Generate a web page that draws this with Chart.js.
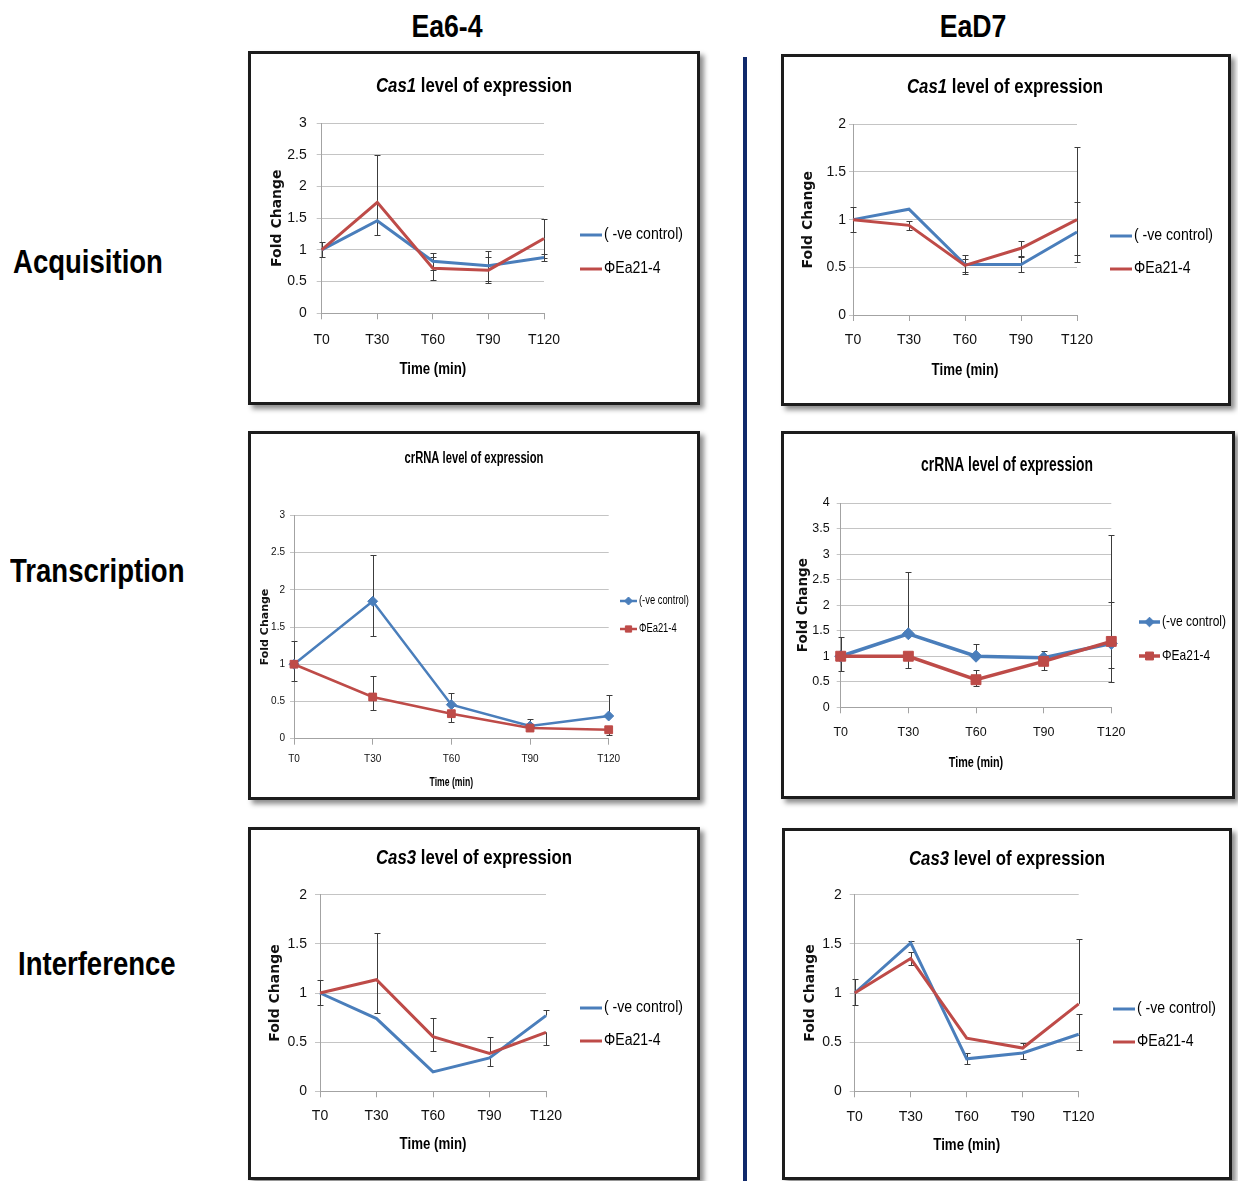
<!DOCTYPE html>
<html>
<head>
<meta charset="utf-8">
<script src="https://cdn.jsdelivr.net/npm/chart.js@4.4.1/dist/chart.umd.min.js"></script>
<style>
  body { margin: 0; background: #fff; }
  #page { position: relative; width: 1238px; height: 1181px; overflow: hidden; background: #fff; }
  .hdr { position: absolute; font-family: "Liberation Sans Narrow", "Liberation Sans", sans-serif; font-weight: bold; color: #000; white-space: nowrap; line-height: 1; }
  .col { width: 200px; text-align: center; font-size: 31px; transform: scaleX(0.86); transform-origin: center; }
  .row { font-size: 34px; transform: scaleX(0.81); transform-origin: left center; }
  .panel { position: absolute; box-sizing: border-box; border: 3px solid #1c1c1c; background: #fff; box-shadow: 4px 4px 5px rgba(0, 0, 0, 0.45); }
  .panel canvas { display: block; }
  #divider { position: absolute; left: 743px; top: 57px; width: 4px; height: 1124px; background: #10296b; }
</style>
</head>
<body>
<div id="page">
  <div class="hdr col" style="left:347px;top:11px;">Ea6-4</div>
  <div class="hdr col" style="left:873px;top:11px;">EaD7</div>
  <div class="hdr row" style="left:13px;top:244px;">Acquisition</div>
  <div class="hdr row" style="left:10px;top:553px;">Transcription</div>
  <div class="hdr row" style="left:18px;top:946px;">Interference</div>
  <div id="divider"></div>

  <div class="panel" style="left:248px;top:51px;width:452px;height:354px;"><canvas id="c1" width="446" height="348"></canvas></div>
  <div class="panel" style="left:781px;top:54px;width:450px;height:352px;"><canvas id="c2" width="444" height="346"></canvas></div>
  <div class="panel" style="left:248px;top:431px;width:452px;height:369px;"><canvas id="c3" width="446" height="363"></canvas></div>
  <div class="panel" style="left:781px;top:431px;width:454px;height:368px;"><canvas id="c4" width="448" height="362"></canvas></div>
  <div class="panel" style="left:248px;top:827px;width:452px;height:353px;"><canvas id="c5" width="446" height="347"></canvas></div>
  <div class="panel" style="left:782px;top:828px;width:450px;height:352px;"><canvas id="c6" width="444" height="346"></canvas></div>
</div>

<script>
// categories and legend names
const timeLabels = ["T0", "T30", "T60", "T90", "T120"];
const ctrlName = "( -ve control)";
const ctrlNameCr = "(-ve control)";
const phageName = "ΦEa21-4";

// Ea6-4, Cas1
const ea64Cas1Ctrl = [1.0, 1.46, 0.82, 0.75, 0.88];
const ea64Cas1Phage = [1.0, 1.75, 0.71, 0.68, 1.18];
const ea64Cas1CtrlErr = [[0.12, 0.12], [0, 0], [0.13, 0.13], [0.24, 0.24], [0.05, 0.05]]; // [minus, plus]
const ea64Cas1PhageErr = [[0, 0], [0.51, 0.75], [0.18, 0.18], [0.21, 0.21], [0.31, 0.31]];

// EaD7, Cas1
const ead7Cas1Ctrl = [1.0, 1.11, 0.53, 0.53, 0.87];
const ead7Cas1Phage = [1.0, 0.94, 0.52, 0.70, 1.0];
const ead7Cas1CtrlErr = [[0.13, 0.13], [0, 0], [0.1, 0.1], [0.08, 0.08], [0.31, 0.31]];
const ead7Cas1PhageErr = [[0, 0], [0.05, 0.05], [0.07, 0.07], [0.08, 0.08], [0.37, 0.76]];

// Ea6-4, crRNA
const ea64CrCtrl = [1.0, 1.845, 0.457, 0.17, 0.305];
const ea64CrPhage = [1.0, 0.56, 0.336, 0.143, 0.12];
const ea64CrCtrlErr = [[0.22, 0.31], [0.46, 0.62], [0, 0.15], [0, 0.1], [0, 0.285]];
const ea64CrPhageErr = [[0, 0], [0.17, 0.28], [0.11, 0], [0.03, 0], [0.075, 0]];

// EaD7, crRNA
const ead7CrCtrl = [1.0, 1.44, 1.0, 0.97, 1.25];
const ead7CrPhage = [1.0, 1.0, 0.54, 0.90, 1.29];
const ead7CrCtrlErr = [[0.28, 0.38], [0, 1.2], [0, 0.23], [0, 0.13], [0.49, 0.82]];
const ead7CrPhageErr = [[0, 0], [0.24, 0], [0.12, 0.2], [0.16, 0], [0.79, 2.09]];

// Ea6-4, Cas3
const ea64Cas3Ctrl = [1.0, 0.74, 0.197, 0.34, 0.77];
const ea64Cas3Phage = [1.0, 1.135, 0.556, 0.386, 0.60];
const ea64Cas3CtrlErr = [[0.12, 0.13], [0, 0], [0, 0], [0.08, 0], [0, 0.06]];
const ea64Cas3PhageErr = [[0, 0], [0.34, 0.48], [0.15, 0.19], [0, 0.17], [0.13, 0]];

// EaD7, Cas3
const ead7Cas3Ctrl = [1.0, 1.51, 0.33, 0.39, 0.58];
const ead7Cas3Phage = [1.0, 1.35, 0.54, 0.44, 0.89];
const ead7Cas3CtrlErr = [[0.12, 0.14], [0, 0.02], [0.05, 0.06], [0.06, 0], [0.16, 0.21]];
const ead7Cas3PhageErr = [[0, 0], [0.07, 0.07], [0, 0], [0, 0.05], [0, 0.66]];

const BLUE = "#4a7ebb";
const RED = "#be4b48";
const GRID = "#c4c4c4";
const AXIS = "#a3a3a3";
const FONT = '"Liberation Sans"';
Chart.defaults.font.family = FONT;

// error bars, drawn under the lines
const errorBars = {
  id: "errorBars",
  beforeDatasetsDraw(chart) {
    const ctx = chart.ctx, y = chart.scales.y;
    ctx.save();
    ctx.strokeStyle = "#3c3c3c";
    ctx.lineWidth = 1;
    chart.data.datasets.forEach((ds, i) => {
      const meta = chart.getDatasetMeta(i);
      meta.data.forEach((pt, j) => {
        const [minus, plus] = ds.errors[j];
        const v = ds.data[j];
        const x = Math.round(pt.x) + 0.5;
        const y0 = y.getPixelForValue(v);
        [[plus, v + plus], [minus, v - minus]].forEach(([amt, end]) => {
          if (!amt) return;
          const ye = Math.round(y.getPixelForValue(end)) + 0.5;
          ctx.beginPath();
          ctx.moveTo(x, y0);
          ctx.lineTo(x, ye);
          ctx.moveTo(x - 3, ye);
          ctx.lineTo(x + 3, ye);
          ctx.stroke();
        });
      });
    });
    ctx.restore();
  }
};

// squeezed text (the original is in a narrow Calibri)
function drawSqueezed(ctx, parts, x, y, size, squeeze) {
  ctx.save();
  ctx.fillStyle = "#000";
  ctx.textBaseline = "middle";
  ctx.textAlign = "left";
  const fonts = parts.map(p => `${p.italic ? "italic " : ""}bold ${size}px ${FONT}`);
  let total = 0;
  parts.forEach((p, i) => { ctx.font = fonts[i]; total += ctx.measureText(p.text).width; });
  ctx.translate(x, y);
  ctx.scale(squeeze, 1);
  let cx = -total / 2;
  parts.forEach((p, i) => {
    ctx.font = fonts[i];
    ctx.fillText(p.text, cx, 0);
    cx += ctx.measureText(p.text).width;
  });
  ctx.restore();
}

// chart title and x axis title
const panelTitle = {
  id: "panelTitle",
  afterDraw(chart, args, opts) {
    const area = chart.chartArea;
    drawSqueezed(chart.ctx, opts.parts, opts.x, opts.y, opts.size, opts.squeeze);
    drawSqueezed(chart.ctx, [{ text: "Time (min)" }], (area.left + area.right) / 2, opts.xtY, opts.xtSize, opts.xtSqueeze);
  }
};

// legend on the right, Excel style
const sideLegend = {
  id: "sideLegend",
  afterDraw(chart, args, opts) {
    const ctx = chart.ctx;
    chart.data.datasets.forEach((ds, i) => {
      const y = opts.y + i * opts.gap;
      ctx.save();
      ctx.strokeStyle = ds.borderColor;
      ctx.fillStyle = ds.borderColor;
      ctx.lineWidth = ds.borderWidth;
      ctx.beginPath();
      ctx.moveTo(opts.x, y);
      ctx.lineTo(opts.x + opts.len, y);
      ctx.stroke();
      if (ds.pointRadius > 0) {
        ctx.lineWidth = 1;
        Chart.helpers.drawPoint(ctx, { pointStyle: ds.pointStyle, radius: ds.pointRadius * 0.8, borderWidth: 1, rotation: 0 }, opts.x + opts.len / 2, y);
      }
      ctx.fillStyle = "#000";
      ctx.font = `${opts.size}px ${FONT}`;
      ctx.textBaseline = "middle";
      ctx.translate(opts.x + opts.len + 2, y);
      ctx.scale(opts.squeeze, 1);
      ctx.fillText(ds.label, 0, 0);
      ctx.restore();
    });
  }
};

function makeChart(id, c) {
  const canvas = document.getElementById(id);
  const W = canvas.width, H = canvas.height;
  const ytLine = c.ytSize * 1.2;
  const datasets = [
    {
      label: c.names[0], data: c.ctrl, errors: c.ctrlErr, order: 1,
      borderColor: BLUE, backgroundColor: BLUE, borderWidth: c.lw,
      pointStyle: "rectRot", pointRadius: c.markers ? c.diamond : 0, pointBorderWidth: 1
    },
    {
      label: c.names[1], data: c.phage, errors: c.phageErr, order: 0,
      borderColor: RED, backgroundColor: RED, borderWidth: c.lw,
      pointStyle: "rect", pointRadius: c.markers ? c.square : 0, pointBorderWidth: 1
    }
  ];
  return new Chart(canvas, {
    type: "line",
    data: { labels: timeLabels, datasets: datasets },
    plugins: [errorBars, panelTitle, sideLegend],
    options: {
      responsive: false,
      animation: false,
      devicePixelRatio: 1,
      layout: { padding: { left: 0, top: c.top, right: W - c.right, bottom: 0 } },
      plugins: {
        legend: { display: false },
        tooltip: { enabled: false },
        panelTitle: {
          parts: c.title, x: c.titleX, y: c.titleY, size: c.titleSize, squeeze: c.titleSqueeze,
          xtY: c.xtY, xtSize: c.xtSize, xtSqueeze: c.xtSqueeze
        },
        sideLegend: { x: c.legX, y: c.legY, gap: c.legGap, len: c.legLen, size: c.legSize, squeeze: c.legSqueeze }
      },
      scales: {
        x: {
          offset: false,
          grid: { drawOnChartArea: false, drawTicks: true, tickLength: 6, color: AXIS },
          border: { color: AXIS },
          ticks: { color: "#111", font: { size: c.tick }, padding: c.xPad, maxRotation: 0, autoSkip: false },
          afterFit(s) { s.height = H - c.bottom; }
        },
        y: {
          min: 0, max: c.ymax,
          grid: { color: GRID, tickLength: c.yTick },
          border: { color: AXIS },
          ticks: { stepSize: 0.5, color: "#111", font: { size: c.tick }, padding: c.yPad, callback: v => String(v) },
          title: {
            display: true, text: "Fold Change", color: "#111",
            font: { family: '"DejaVu Sans"', size: c.ytSize, weight: "bold" },
            padding: { top: c.ytX - ytLine / 2, bottom: 0 }
          },
          afterFit(s) { s.width = c.left; }
        }
      }
    }
  });
}

const cas1Title = [{ text: "Cas1", italic: true }, { text: " level of expression" }];
const cas3Title = [{ text: "Cas3", italic: true }, { text: " level of expression" }];
const crTitle = [{ text: "crRNA level of expression" }];

const bigText = {
  tick: 14, xtSize: 17, xtSqueeze: 0.78, ytSize: 14, titleSize: 21, titleSqueeze: 0.8,
  legSize: 16, legSqueeze: 0.88, legLen: 22, lw: 3, markers: false
};

makeChart("c1", Object.assign({}, bigText, {
  ctrl: ea64Cas1Ctrl, phage: ea64Cas1Phage, ctrlErr: ea64Cas1CtrlErr, phageErr: ea64Cas1PhageErr,
  names: [ctrlName, phageName], title: cas1Title, ymax: 3,
  left: 70.7, right: 293, top: 69, bottom: 259.3,
  xPad: 12, yPad: 10, yTick: 5, ytX: 26, xtY: 315,
  titleX: 223, titleY: 32, legX: 329, legY: 181, legGap: 34
}));

makeChart("c2", Object.assign({}, bigText, {
  ctrl: ead7Cas1Ctrl, phage: ead7Cas1Phage, ctrlErr: ead7Cas1CtrlErr, phageErr: ead7Cas1PhageErr,
  names: [ctrlName, phageName], title: cas1Title, ymax: 2,
  left: 69, right: 293, top: 67.3, bottom: 258,
  xPad: 11, yPad: 3, yTick: 4, ytX: 24, xtY: 313,
  titleX: 221, titleY: 30, legX: 326, legY: 179, legGap: 33
}));

makeChart("c3", {
  ctrl: ea64CrCtrl, phage: ea64CrPhage, ctrlErr: ea64CrCtrlErr, phageErr: ea64CrPhageErr,
  names: [ctrlNameCr, phageName], title: crTitle, ymax: 3,
  tick: 10, xtSize: 12, xtSqueeze: 0.72, ytSize: 11, titleSize: 16, titleSqueeze: 0.7,
  legSize: 12, legSqueeze: 0.78, legLen: 17, lw: 2.5,
  markers: true, diamond: 5, square: 5.5,
  left: 43, right: 357.7, top: 81.3, bottom: 304.7,
  xPad: 9, yPad: 5, yTick: 4, ytX: 14, xtY: 349,
  titleX: 223, titleY: 25, legX: 369, legY: 167, legGap: 28
});

makeChart("c4", {
  ctrl: ead7CrCtrl, phage: ead7CrPhage, ctrlErr: ead7CrCtrlErr, phageErr: ead7CrPhageErr,
  names: [ctrlNameCr, phageName], title: crTitle, ymax: 4,
  tick: 12.5, xtSize: 15, xtSqueeze: 0.72, ytSize: 13.5, titleSize: 21, titleSqueeze: 0.66,
  legSize: 15, legSqueeze: 0.8, legLen: 21, lw: 3.5,
  markers: true, diamond: 6, square: 7,
  left: 56.7, right: 327.3, top: 69, bottom: 273.3,
  xPad: 12, yPad: 7, yTick: 4, ytX: 19, xtY: 329,
  titleX: 223, titleY: 31, legX: 355, legY: 188, legGap: 34
});

makeChart("c5", Object.assign({}, bigText, {
  ctrl: ea64Cas3Ctrl, phage: ea64Cas3Phage, ctrlErr: ea64Cas3CtrlErr, phageErr: ea64Cas3PhageErr,
  names: [ctrlName, phageName], title: cas3Title, ymax: 2,
  left: 69, right: 295, top: 64.7, bottom: 261.3,
  xPad: 10, yPad: 8, yTick: 5, ytX: 24, xtY: 314,
  titleX: 223, titleY: 28, legX: 329, legY: 178, legGap: 33
}));

makeChart("c6", Object.assign({}, bigText, {
  ctrl: ead7Cas3Ctrl, phage: ead7Cas3Phage, ctrlErr: ead7Cas3CtrlErr, phageErr: ead7Cas3PhageErr,
  names: [ctrlName, phageName], title: cas3Title, ymax: 2,
  left: 69.7, right: 293.7, top: 63.7, bottom: 260.3,
  xPad: 11, yPad: 8, yTick: 5, ytX: 25, xtY: 314,
  titleX: 222, titleY: 28, legX: 328, legY: 178, legGap: 33
}));
</script>
</body>
</html>
